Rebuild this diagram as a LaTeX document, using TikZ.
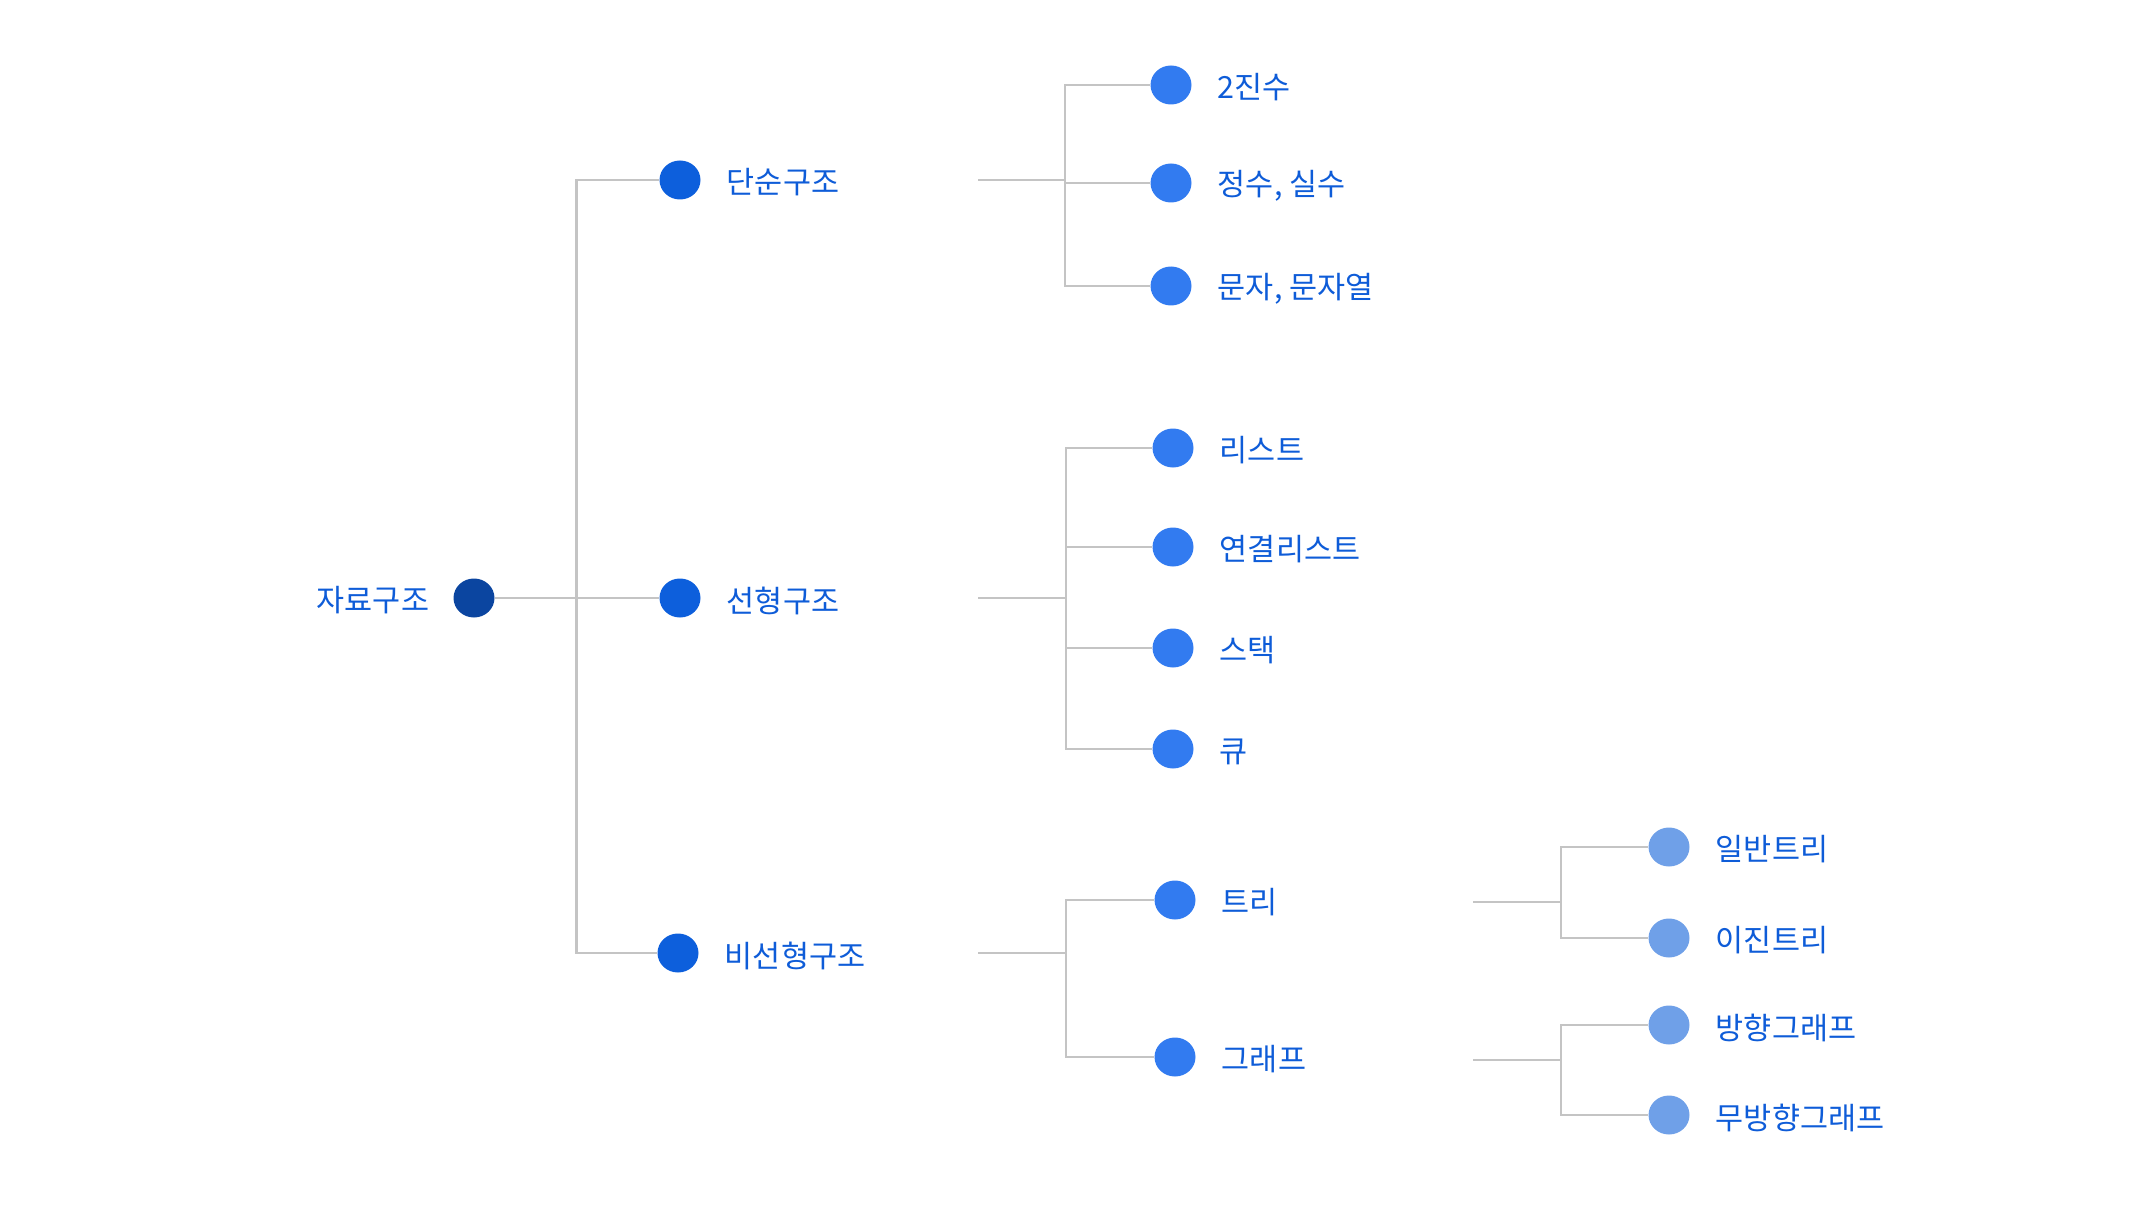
\documentclass[tikz,border=0pt]{standalone}
\usepackage{fontspec}
\setmainfont{Noto Sans CJK KR}
\usetikzlibrary{shapes.geometric,positioning}
\definecolor{rootblue}{HTML}{0B45A0}
\definecolor{lvla}{HTML}{0D5FDC}
\definecolor{lvlb}{HTML}{327BF0}
\definecolor{lvlc}{HTML}{6FA0E8}
\definecolor{txtblue}{HTML}{0E5CD8}
\definecolor{linegray}{HTML}{C4C4C4}
\begin{document}
\begin{tikzpicture}[x=1pt,y=-1pt,
  dotbase/.style={ellipse,draw=none,minimum width=41pt,minimum height=39pt,inner sep=0pt},
  rootdot/.style={dotbase,fill=rootblue},
  dota/.style={dotbase,fill=lvla},
  dotb/.style={dotbase,fill=lvlb},
  dotc/.style={dotbase,fill=lvlc},
  lbl/.style={inner sep=0pt,yshift=-2.5pt,text=txtblue,font=\fontsize{30.5}{34}\selectfont},
  conn/.style={draw=linegray,line width=2.6pt}]
\useasboundingbox (0,0) rectangle (2142,1206);

% ---- dots ----
\node[rootdot] (root) at (474,598) {};
\node[dota] (simple) at (680,180) {};
\node[dota] (linear) at (680,598) {};
\node[dota] (nonlin) at (678,953) {};

\node[dotb] (bin)   at (1171,85)  {};
\node[dotb] (num)   at (1171,183) {};
\node[dotb] (chr)   at (1171,286) {};

\node[dotb] (list)  at (1173,448) {};
\node[dotb] (llist) at (1173,547) {};
\node[dotb] (stack) at (1173,648) {};
\node[dotb] (queue) at (1173,749) {};

\node[dotb] (tree)  at (1175,900) {};
\node[dotb] (graph) at (1175,1057) {};

\node[dotc] (gtree) at (1669,847) {};
\node[dotc] (btree) at (1669,938) {};
\node[dotc] (dgraph) at (1669,1025) {};
\node[dotc] (ugraph) at (1669,1115) {};

% ---- labels ----
\node[lbl,left=24pt of root] (t-root) {자료구조};
\node[lbl,right=26pt of simple] (t-simple) {단순구조};
\node[lbl,right=26pt of linear] (t-linear) {선형구조};
\node[lbl,right=26pt of nonlin] (t-nonlin) {비선형구조};
\node[lbl,right=26pt of bin] (t-bin) {2진수};
\node[lbl,right=26pt of num] (t-num) {정수, 실수};
\node[lbl,right=26pt of chr] (t-chr) {문자, 문자열};
\node[lbl,right=26pt of list] (t-list) {리스트};
\node[lbl,right=26pt of llist] (t-llist) {연결리스트};
\node[lbl,right=26pt of stack] (t-stack) {스택};
\node[lbl,right=26pt of queue] (t-queue) {큐};
\node[lbl,right=26pt of tree] (t-tree) {트리};
\node[lbl,right=26pt of graph] (t-graph) {그래프};
\node[lbl,right=26pt of gtree] (t-gtree) {일반트리};
\node[lbl,right=26pt of btree] (t-btree) {이진트리};
\node[lbl,right=26pt of dgraph] (t-dgraph) {방향그래프};
\node[lbl,right=26pt of ugraph] (t-ugraph) {무방향그래프};

% ---- junctions ----
\coordinate (j0) at (576.5,598);
\coordinate (s1) at (978,180);  \coordinate (j1) at (1065,180);
\coordinate (s2) at (978,598);  \coordinate (j2) at (1066,598);
\coordinate (s3) at (978,953);  \coordinate (j3) at (1066,953);
\coordinate (s4) at (1473,902); \coordinate (j4) at (1561,902);
\coordinate (s5) at (1473,1060);\coordinate (j5) at (1561,1060);

% ---- connectors ----
\draw[conn] (root) -- (j0);
\draw[conn] (j0) |- (simple);
\draw[conn] (j0) -- (linear);
\draw[conn] (j0) |- (nonlin);

\draw[conn] (s1) -- (j1);
\draw[conn] (j1) |- (bin);
\draw[conn] (j1) |- (num);
\draw[conn] (j1) |- (chr);

\draw[conn] (s2) -- (j2);
\draw[conn] (j2) |- (list);
\draw[conn] (j2) |- (llist);
\draw[conn] (j2) |- (stack);
\draw[conn] (j2) |- (queue);

\draw[conn] (s3) -- (j3);
\draw[conn] (j3) |- (tree);
\draw[conn] (j3) |- (graph);

\draw[conn] (s4) -- (j4);
\draw[conn] (j4) |- (gtree);
\draw[conn] (j4) |- (btree);

\draw[conn] (s5) -- (j5);
\draw[conn] (j5) |- (dgraph);
\draw[conn] (j5) |- (ugraph);
\end{tikzpicture}
\end{document}
